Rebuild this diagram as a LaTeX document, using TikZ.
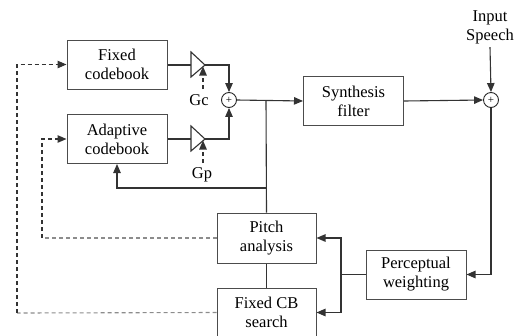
\documentclass[tikz,border=0pt]{standalone}
\usepackage{fontspec}
\setmainfont{Liberation Serif}
\usetikzlibrary{arrows.meta, shapes.geometric}
\tikzset{
  blk/.style={draw=black!70, line width=1pt, minimum width=100pt, minimum height=49pt, align=center, inner sep=0pt},
  summ/.style={draw=black!85, line width=0.9pt, circle, minimum size=15pt, inner sep=0pt, font=\fontsize{11}{11}\selectfont},
  wire/.style={draw=black!80, line width=1.1pt},
  arr/.style={wire, -{Triangle[length=9pt, width=7.5pt]}},
  fb/.style={arr, dash pattern=on 4pt off 3pt},
  fbg/.style={draw=black!45, line width=1.1pt, dash pattern=on 4pt off 3pt}
}
\begin{document}
\begin{tikzpicture}[x=1pt, y=-1pt, font=\fontsize{16.5}{19}\selectfont]
\useasboundingbox (0,0) rectangle (516,335);
\node[blk] (fcb) at (117,64.5) {Fixed\\codebook};
\node[blk] (acb) at (117,139) {Adaptive\\codebook};
\node[blk] (syn) at (353.5,101) {Synthesis\\filter};
\node[blk, minimum width=99pt, minimum height=50pt] (pa) at (266.5,238) {Pitch\\analysis};
\node[blk, minimum width=99pt] (fcs) at (266.5,312.5) {Fixed CB\\search};
\node[blk] (pw) at (416,274.5) {Perceptual\\weighting};
\node[summ] (s1) at (229,100) {+};
\node[summ] (s2) at (491,100) {+};
\node[align=center] (inp) at (490,27) {Input\\Speech};
\node (gc) at (199,100) {Gc};
\node (gp) at (202,175) {Gp};
\coordinate (ac) at (205,65);
\coordinate (ap) at (205,139);
\draw[wire] (191,52) -- (ac) -- (191,77) -- cycle;
\draw[wire] (191,126) -- (ap) -- (191,151) -- cycle;
\draw[wire] (fcb.east |- ac) -- (191,65);
\draw[wire] (acb.east |- ap) -- (191,139);
\draw[arr] (ac) -| (s1.north);
\draw[arr] (ap) -| (s1.south);
\draw[fb] (203,89) -- (203,66.5);
\draw[fb] (203,163) -- (203,140.5);
\draw[arr] (s1.east) -- (syn.west);
\coordinate (j1) at (266,100);
\draw[wire] (j1) -- (pa.north);
\draw[arr] (266,188) -| (acb.south);
\draw[arr] (syn.east) -- (s2.west);
\draw[arr] (inp.south) -- (s2.north);
\draw[arr] (s2.south) |- (pw.east);
\draw[wire] (pa.south) -- (fcs.north);
\draw[wire] (pw.west) -- (341,274.5);
\draw[arr] (341,274.5) |- (pa.east);
\draw[arr] (341,274.5) |- (fcs.east);
\draw[fbg] (pa.west) -- (42,238);
\draw[fb] (42,238) |- (acb.west);
\draw[fbg] (fcs.west) -- (17,313);
\draw[fb] (17,313) |- (fcb.west);
\end{tikzpicture}
\end{document}
